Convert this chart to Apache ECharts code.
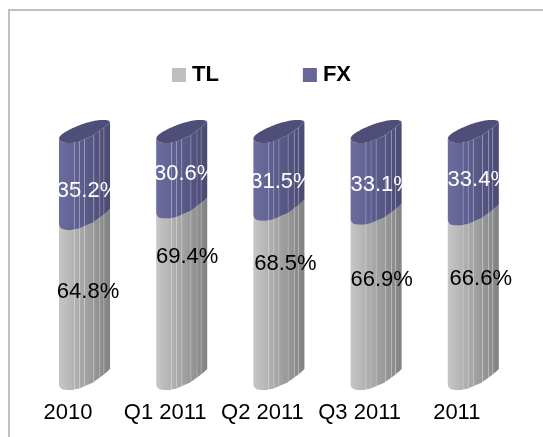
<!DOCTYPE html>
<html>
<head>
<meta charset="utf-8">
<style>html,body{margin:0;padding:0;background:#fff}#c{width:543px;height:437px}</style>
<script src="https://cdn.jsdelivr.net/npm/echarts@6/dist/echarts.min.js"></script>
</head>
<body>
<div id="c"></div>
<script>
const categories = ['2010', 'Q1 2011', 'Q2 2011', 'Q3 2011', '2011'];
const tlValues = [64.8, 69.4, 68.5, 66.9, 66.6];
const fxValues = [35.2, 30.6, 31.5, 33.1, 33.4];

// Hand-placed label nudges of the original, in px (layout, not data)
const tlLabelDx = [20, 22, 23, 22, 24];
const tlLabelDy = [-18, -47, -41, -27, -29];
const fxLabelDx = [20, 20, 19, 22, 22];
const fxLabelDy = [4, -7, 0, 1, -4];

// Cylinder outline: [fraction of bar width, px offset from the value level]
const lowerEdge = [[0,-5],[.02,-2.5],[.06,-.8],[.14,0],[.25,0],[.4,-1.5],[.55,-5],[.67,-7.5],[.84,-14],[.94,-18],[1,-21]];
const upperEdge = [[0,-5],[.03,-7.5],[.12,-11],[.25,-14.5],[.41,-18],[.55,-20.5],[.67,-22],[.8,-23],[.92,-23],[.98,-22.3],[1,-21]];
const stripes = [0, .3, .4, .5, .68, .8, .88, 1];

function edgeAt(tbl, t) {
  for (let i = 1; i < tbl.length; i++) {
    if (t <= tbl[i][0]) {
      const a = tbl[i - 1], b = tbl[i];
      return a[1] + (b[1] - a[1]) * (t - a[0]) / (b[0] - a[0]);
    }
  }
  return tbl[tbl.length - 1][1];
}
function mix(c1, c2, t) {
  const v = c1.map((c, i) => Math.round(c + (c2[i] - c) * t));
  return 'rgb(' + v.join(',') + ')';
}
const greyRamp = [[198, 198, 198], [130, 130, 130]];
const blueRamp = [[108, 108, 160], [74, 74, 114]];
const greyLine = 'rgba(235,235,235,0.25)';
const blueLine = 'rgba(190,190,225,0.35)';

function makeRender(lowerOf, values, ramp, lineColor, labelColor, dxs, dys, withCap) {
  return function (params, api) {
    const i = api.value(0);
    const band = api.size([1, 0])[0];
    const centre = api.coord([i, 0])[0];
    const w = band * 0.525;
    const x0 = centre - band * 0.0926;
    const yLow = api.coord([i, lowerOf(i)])[1];
    const yHigh = api.coord([i, lowerOf(i) + values[i]])[1];
    const children = [];
    for (let s = 0; s < stripes.length - 1; s++) {
      const a = stripes[s], b = stripes[s + 1];
      const pts = [];
      for (let t = a; t <= b + 1e-6; t += 0.02) pts.push([x0 + t * w, yHigh + edgeAt(lowerEdge, t)]);
      pts.push([x0 + b * w, yHigh + edgeAt(lowerEdge, b)]);
      pts.push([x0 + b * w, yLow + edgeAt(lowerEdge, b)]);
      for (let t = b; t >= a - 1e-6; t -= 0.02) pts.push([x0 + t * w, yLow + edgeAt(lowerEdge, t)]);
      children.push({
        type: 'polygon', shape: { points: pts },
        style: {
          fill: new echarts.graphic.LinearGradient(0, 0, 1, 0, [
            { offset: 0, color: mix(ramp[0], ramp[1], a) },
            { offset: 1, color: mix(ramp[0], ramp[1], b) }
          ])
        }
      });
      if (s > 0) {
        children.push({
          type: 'line',
          shape: { x1: x0 + a * w, y1: yHigh + edgeAt(lowerEdge, a), x2: x0 + a * w, y2: yLow + edgeAt(lowerEdge, a) },
          style: { stroke: lineColor, lineWidth: 1 }
        });
      }
    }
    if (withCap) {
      const pts = [];
      for (let t = 0; t <= 1.0001; t += 0.02) pts.push([x0 + t * w, yHigh + edgeAt(upperEdge, t)]);
      for (let t = 1; t >= -0.0001; t -= 0.02) pts.push([x0 + t * w, yHigh + edgeAt(lowerEdge, t)]);
      children.push({ type: 'polygon', shape: { points: pts }, style: { fill: '#4e4e78' } });
    }
    children.push({
      type: 'text',
      z2: 10,
      style: {
        text: values[i].toFixed(1) + '%',
        x: centre + dxs[i],
        y: (yLow + yHigh) / 2 + dys[i],
        align: 'center', verticalAlign: 'middle',
        fill: labelColor,
        font: '22px "Liberation Sans", Arial, sans-serif'
      }
    });
    return { type: 'group', children };
  };
}

const chart = echarts.init(document.getElementById('c'), null, { renderer: 'canvas' });
chart.setOption({
  animation: false,
  backgroundColor: '#ffffff',
  graphic: [{
    type: 'rect', silent: true, z: -1,
    shape: { x: 9, y: 10, width: 700, height: 700 },
    style: { fill: 'none', stroke: '#bfbfbf', lineWidth: 2 }
  }],
  legend: {
    left: 172, top: 64, padding: 0,
    data: ['TL', 'FX'],
    icon: 'rect', itemWidth: 14, itemHeight: 14, itemGap: 84,
    textStyle: { fontFamily: '"Liberation Sans", Arial, sans-serif', fontSize: 22, fontWeight: 'bold', color: '#000', padding: [0, 0, 0, 1] }
  },
  grid: { left: 19.4, width: 486, top: 143, height: 247 },
  xAxis: {
    type: 'category', data: categories,
    axisLine: { show: false }, axisTick: { show: false }, splitLine: { show: false },
    axisLabel: { interval: 0, margin: 12, color: '#000', fontSize: 22, fontFamily: '"Liberation Sans", Arial, sans-serif' }
  },
  yAxis: { type: 'value', min: 0, max: 100, show: false, splitLine: { show: false } },
  series: [
    {
      name: 'TL', type: 'custom', coordinateSystem: 'cartesian2d', itemStyle: { color: '#bfbfbf' },
      encode: { x: 0, y: 1 }, data: categories.map((c, i) => [i, tlValues[i]]),
      renderItem: makeRender(() => 0, tlValues, greyRamp, greyLine, '#000', tlLabelDx, tlLabelDy, false)
    },
    {
      name: 'FX', type: 'custom', coordinateSystem: 'cartesian2d', itemStyle: { color: '#666699' },
      encode: { x: 0, y: 1 }, data: categories.map((c, i) => [i, fxValues[i]]),
      renderItem: makeRender(i => tlValues[i], fxValues, blueRamp, blueLine, '#fff', fxLabelDx, fxLabelDy, true)
    }
  ]
});
</script>
</body>
</html>
